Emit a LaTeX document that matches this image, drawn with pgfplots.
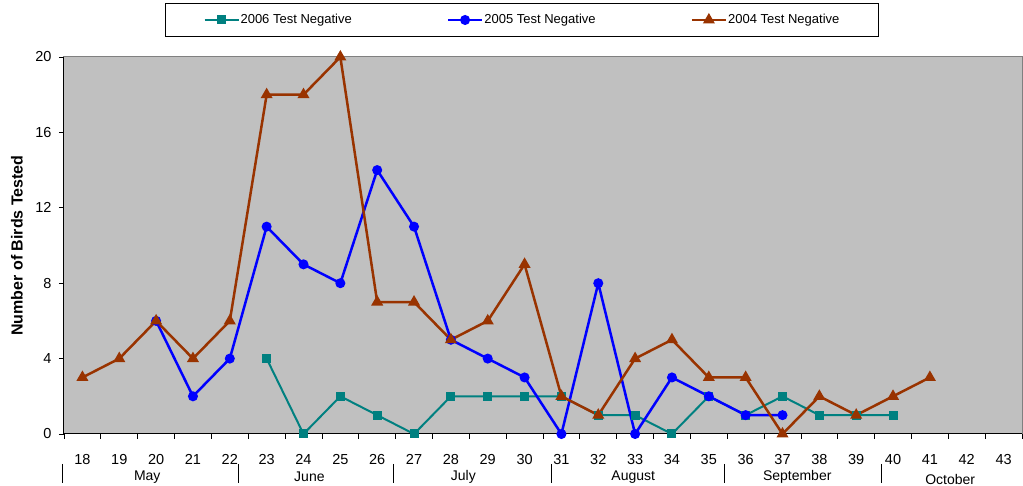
\documentclass[border=0pt]{standalone}
\usepackage{pgfplots}
\pgfplotsset{compat=1.18}
\usepackage{fontspec}
\setmainfont{Liberation Sans}
\definecolor{cteal}{HTML}{008080}
\definecolor{cblue}{HTML}{0000FF}
\definecolor{cbrown}{HTML}{993300}
\definecolor{bggray}{HTML}{C0C0C0}
\begin{document}
\begin{tikzpicture}
\begin{axis}[
  at={(0pt,0pt)}, anchor=south west,
  scale only axis, width=958pt, height=377pt,
  xmin=-0.5, xmax=25.5, ymin=0, ymax=20,
  axis background/.style={fill=bggray},
  axis line style={draw=gray, line width=1pt},
  clip=false,
  xtick={0,...,25},
  xticklabels={18,19,20,21,22,23,24,25,26,27,28,29,30,31,32,33,34,35,36,37,38,39,40,41,42,43},
  major x tick style={draw=none},
  minor xtick={-0.5,0.5,...,25.5},
  minor tick length=5pt,
  minor x tick style={draw=black, line width=0.8pt},
  ytick={0,4,8,12,16,20},
  major y tick style={draw=black, line width=0.8pt},
  major tick length=5pt,
  tick align=outside,
  xtick pos=bottom, ytick pos=left,
  /pgf/number format/assume math mode=true,
  tick label style={font=\fontsize{14.5}{16}\selectfont},
  xticklabel style={yshift=-12pt},
  yticklabel style={xshift=-4pt},
  legend columns=3,
  legend style={at={(458pt,414pt)}, anchor=center, draw=black, line width=0.8pt, fill=white,
    font=\fontsize{13}{15}\selectfont, inner xsep=38pt, inner ysep=9pt,
    nodes={inner xsep=1pt},
    /tikz/every even column/.append style={column sep=94pt}},
  legend image code/.code={\draw[mark repeat=2, mark phase=2] plot coordinates {(0pt,0pt) (17pt,0pt) (34pt,0pt)};},
]
\addplot[cteal, line width=2pt, mark=square*, mark size=3.5pt, mark options={solid}] coordinates {
(5,4)(6,0)(7,2)(8,1)(9,0)(10,2)(11,2)(12,2)(13,2)(14,1)(15,1)(16,0)(17,2)(18,1)(19,2)(20,1)(21,1)(22,1)};
\addlegendentry{2006 Test Negative}
\addplot[cblue, line width=2.5pt, mark=*, mark size=3.7pt, mark options={solid}] coordinates {
(2,6)(3,2)(4,4)(5,11)(6,9)(7,8)(8,14)(9,11)(10,5)(11,4)(12,3)(13,0)(14,8)(15,0)(16,3)(17,2)(18,1)(19,1)};
\addlegendentry{2005 Test Negative}
\addplot[cbrown, line width=2.5pt, mark=triangle*, mark size=4.5pt, mark options={solid}] coordinates {
(0,3)(1,4)(2,6)(3,4)(4,6)(5,18)(6,18)(7,20)(8,7)(9,7)(10,5)(11,6)(12,9)(13,2)(14,1)(15,4)(16,5)(17,3)(18,3)(19,0)(20,2)(21,1)(22,2)(23,3)};
\addlegendentry{2004 Test Negative}
\draw[black, line width=1pt] (rel axis cs:0,1) -- (rel axis cs:0,0) -- (rel axis cs:1,0);
\node[rotate=90, font=\bfseries\fontsize{16}{18}\selectfont] at ([xshift=-47pt]rel axis cs:0,0.5) {Number of Birds Tested};
\node[font=\fontsize{14}{16}\selectfont] at ([yshift=-43pt]axis cs:1.76,0) {May};
\node[font=\fontsize{14}{16}\selectfont] at ([yshift=-43pt]axis cs:6.16,0) {June};
\node[font=\fontsize{14}{16}\selectfont] at ([yshift=-43pt]axis cs:10.34,0) {July};
\node[font=\fontsize{14}{16}\selectfont] at ([yshift=-43pt]axis cs:14.95,0) {August};
\node[font=\fontsize{14}{16}\selectfont] at ([yshift=-43pt]axis cs:19.4,0) {September};
\node[font=\fontsize{14}{16}\selectfont] at ([yshift=-45pt]axis cs:23.55,0) {October};
\draw[black, line width=1pt] ([yshift=-30pt]axis cs:-0.54,0) -- ([yshift=-49pt]axis cs:-0.54,0);
\draw[black, line width=1pt] ([yshift=-30pt]axis cs:4.23,0) -- ([yshift=-49pt]axis cs:4.23,0);
\draw[black, line width=1pt] ([yshift=-30pt]axis cs:8.44,0) -- ([yshift=-49pt]axis cs:8.44,0);
\draw[black, line width=1pt] ([yshift=-30pt]axis cs:12.73,0) -- ([yshift=-49pt]axis cs:12.73,0);
\draw[black, line width=1pt] ([yshift=-30pt]axis cs:17.42,0) -- ([yshift=-49pt]axis cs:17.42,0);
\draw[black, line width=1pt] ([yshift=-30pt]axis cs:21.68,0) -- ([yshift=-49pt]axis cs:21.68,0);
\end{axis}
\pgfresetboundingbox
\path (-64pt,-52pt) rectangle (959pt,434pt);
\end{tikzpicture}
\end{document}
